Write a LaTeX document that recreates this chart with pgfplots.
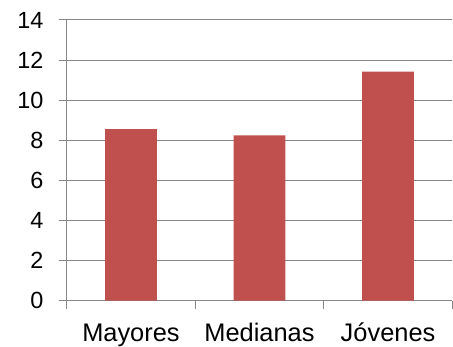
\documentclass[border=0pt]{standalone}
\usepackage{pgfplots}
\pgfplotsset{compat=1.18}
\usepackage{fontspec}
\setmainfont{Liberation Sans}
\definecolor{barred}{HTML}{C0504D}
\definecolor{axgray}{HTML}{868686}
\begin{document}
\begin{tikzpicture}
\path[use as bounding box] (-66.7bp,-46.3bp) rectangle (386.3bp,300.7bp);
\begin{axis}[
  at={(0,0)}, anchor=south west,
  scale only axis, width=385.6bp, height=280.7bp,
  xmin=-0.5, xmax=2.5, ymin=0, ymax=14,
  ytick={0,2,...,14},
  ymajorgrids, grid style={axgray, line width=1bp},
  axis x line*=bottom, axis y line*=left,
  axis line style={-, draw=axgray, line width=1bp},
  xtick align=outside, ytick align=outside, major tick length=8bp,
  xtick style={draw=axgray, line width=1bp},
  ytick style={draw=axgray, line width=1bp},
  xtick={-0.5,0.5,1.5,2.5}, xticklabels={},
  extra x ticks={0,1,2},
  extra x tick labels={Mayores,Medianas,Jóvenes},
  extra x tick style={major tick length=0pt},
  x tick label style={font=\fontsize{25.5}{30}\selectfont, inner sep=0pt, text height=18.3bp, text depth=5bp, anchor=north, yshift=-22bp},
  y tick label style={font=\fontsize{23.5}{28}\selectfont, inner sep=0pt, anchor=east, xshift=-15bp},
  /pgf/number format/assume math mode=true,
  clip=false,
]
\addplot[ybar, bar width=51.7bp, fill=barred, draw=none] coordinates {(0,8.56) (1,8.25) (2,11.42)};
\end{axis}
\end{tikzpicture}
\end{document}
